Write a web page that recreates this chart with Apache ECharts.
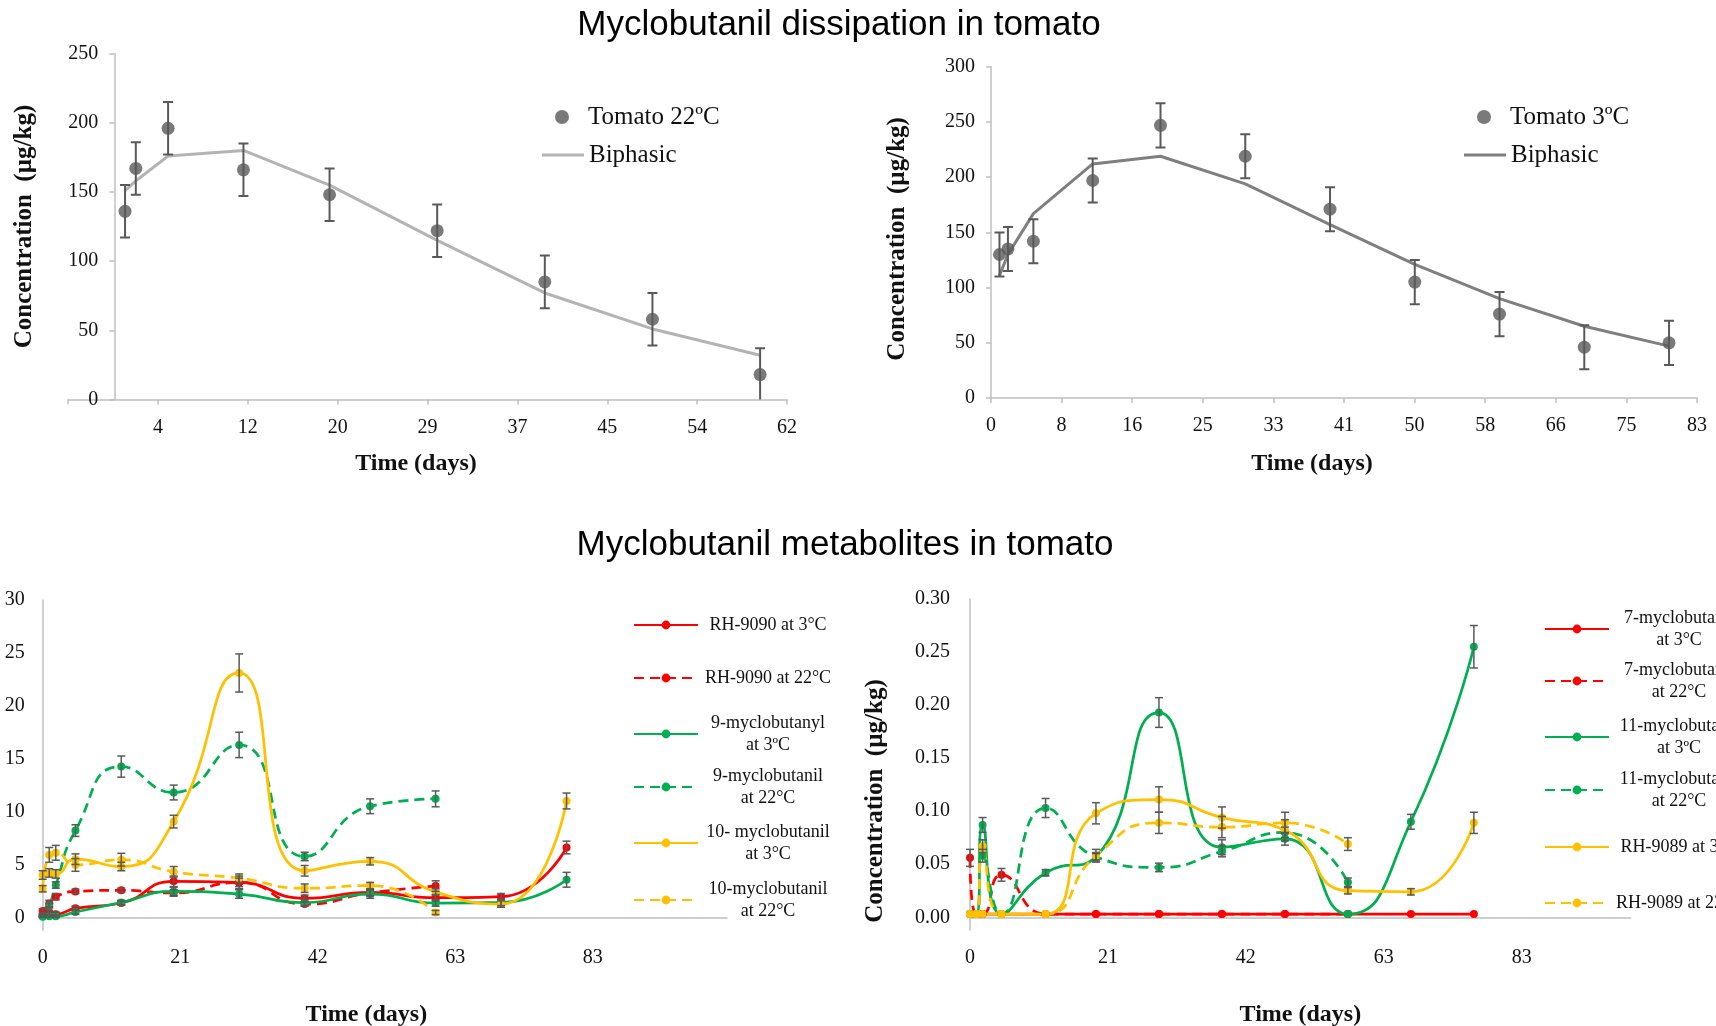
<!DOCTYPE html>
<html><head><meta charset="utf-8">
<script src="https://cdn.jsdelivr.net/npm/echarts@6/dist/echarts.min.js"></script>
<style>html,body{margin:0;padding:0;background:#fff}#c{width:1716px;height:1026px}</style>
</head><body><div id="c"></div>
<script>
// ---------- Top-left: Tomato 22ºC ----------
const daysTL = [1, 2, 5, 12, 20, 30, 40, 50, 60];
const tomato22 = [136, 167, 196, 166, 148, 122, 85, 58, 18];
const tomato22Err = [19, 19, 19, 19, 19, 19, 19, 19, 19];
const biphasic22 = [151, 158, 176, 180, 155, 115, 77, 51, 32];
const ticksTLPos = [-4.3, 4.05, 12.4, 20.75, 29.1, 37.45, 45.8, 54.15, 62.5];
const ticksTLLabel = ['', '4', '12', '20', '29', '37', '45', '54', '62'];

// ---------- Top-right: Tomato 3ºC ----------
const daysTR = [1, 2, 5, 12, 20, 30, 40, 50, 60, 70, 80];
const tomato3 = [130, 135, 142, 197, 247, 219, 171, 105, 76, 46, 50];
const tomato3Err = [20, 20, 20, 20, 20, 20, 20, 20, 20, 20, 20];
const biphasic3 = [111, 130, 167, 212, 219, 194, 157, 121, 90, 65, 47];
const ticksTRPos = [0, 8.33, 16.66, 24.99, 33.32, 41.65, 49.98, 58.31, 66.64, 74.97, 83.3];
const ticksTRLabel = ['0', '8', '16', '25', '33', '41', '50', '58', '66', '75', '83'];

// ---------- Bottom-left: metabolites (µg/kg) ----------
const days3 = [0, 1, 2, 5, 12, 20, 30, 40, 50, 60, 70, 80];
const days22 = [0, 1, 2, 5, 12, 20, 30, 40, 50, 60];
const rh9090_3 = [0.2, 0.45, 0.3, 0.85, 1.35, 3.4, 3.3, 1.8, 2.35, 1.85, 1.95, 6.6];
const rh9090_3Err = [0.1, 0.2, 0.2, 0.2, 0.2, 0.5, 0.4, 0.3, 0.3, 0.3, 0.3, 0.6];
const rh9090_22 = [0.6, 1.3, 1.95, 2.45, 2.55, 2.3, 3.3, 1.25, 2.3, 2.95];
const rh9090_22Err = [0.2, 0.3, 0.3, 0.2, 0.2, 0.3, 0.6, 0.2, 0.3, 0.5];
const m9_3 = [0.05, 0.1, 0.1, 0.5, 1.4, 2.45, 2.2, 1.4, 2.2, 1.35, 1.4, 3.55];
const m9_3Err = [0.05, 0.1, 0.1, 0.2, 0.2, 0.4, 0.4, 0.3, 0.4, 0.3, 0.3, 0.7];
const m9_22 = [0.1, 1.1, 3.05, 8.2, 14.25, 11.8, 16.3, 5.75, 10.5, 11.2];
const m9_22Err = [0.1, 0.2, 0.3, 0.55, 1.0, 0.7, 1.2, 0.4, 0.7, 0.75];
const m10_3 = [4.0, 4.2, 4.1, 5.5, 4.8, 9.05, 23.1, 4.4, 5.3, 2.4, 1.25, 11.0];
const m10_3Err = [0.4, 0.4, 0.4, 0.5, 0.4, 0.6, 1.8, 0.5, 0.35, 0.3, 0.3, 0.75];
const m10_22 = [2.7, 5.9, 6.1, 4.95, 5.45, 4.3, 3.7, 2.75, 3.0, 0.45];
const m10_22Err = [0.3, 0.7, 0.7, 0.6, 0.6, 0.5, 0.4, 0.4, 0.3, 0.2];
const ticksBLPos = [0, 21, 42, 63, 84];
const ticksBLLabel = ['0', '21', '42', '63', '83'];
const yTicksBL = [0, 5, 10, 15, 20, 25, 30];

// ---------- Bottom-right: metabolites (µg/kg) ----------
const m7_3 = [0.003, 0.003, 0.003, 0.003, 0.003, 0.003, 0.003, 0.003, 0.003, 0.003, 0.003, 0.003];
const m7_22 = [0.056, 0.003, 0.003, 0.040, 0.003, 0.003, 0.003, 0.003, 0.003, 0.003];
const m7_22Err = [0.008, 0, 0, 0.006, 0, 0, 0, 0, 0, 0];
const m11_3 = [0.003, 0.003, 0.087, 0.003, 0.042, 0.057, 0.193, 0.066, 0.074, 0.003, 0.090, 0.255];
const m11_3Err = [0, 0, 0.007, 0, 0.003, 0.003, 0.014, 0.007, 0.006, 0, 0.007, 0.02];
const m11_22 = [0.003, 0.003, 0.058, 0.003, 0.103, 0.057, 0.047, 0.062, 0.080, 0.033];
const m11_22Err = [0, 0, 0.006, 0, 0.009, 0.004, 0.004, 0.005, 0.005, 0.004];
const rh9089_3 = [0.003, 0.003, 0.003, 0.003, 0.003, 0.098, 0.111, 0.094, 0.082, 0.025, 0.024, 0.089];
const rh9089_3Err = [0, 0, 0, 0, 0, 0.01, 0.012, 0.01, 0.01, 0.003, 0.003, 0.01];
const rh9089_22 = [0.003, 0.003, 0.067, 0.003, 0.003, 0.058, 0.089, 0.085, 0.089, 0.069];
const rh9089_22Err = [0, 0, 0.006, 0, 0, 0.006, 0.01, 0.01, 0.01, 0.006];
const ticksBRPos = [0, 21.9, 43.8, 65.7, 87.6];
const ticksBRLabel = ['0', '21', '42', '63', '83'];
const yTicksBR = [0, 0.05, 0.10, 0.15, 0.20, 0.25, 0.30];

// ---------- styling ----------
const SERIF = "'Liberation Serif','Times New Roman',serif";
const SANS = "'Liberation Sans',Arial,sans-serif";
const AXC = '#bfbfbf';
const TXT = '#111';
const EBC = '#595959';
const RED = '#ff0000', GREEN = '#00b050', YEL = '#ffc000';

const zip = (xs, ys) => xs.map((x, i) => [x, ys[i]]);
const labelFor = (pos, lab) => v => {
  let bi = 0, bd = Infinity;
  pos.forEach((p, i) => { const d = Math.abs(p - v); if (d < bd) { bd = d; bi = i; } });
  return lab[bi];
};

function errSeries(axis, xs, vals, errs, capW, lw, clip) {
  const data = [];
  xs.forEach((x, i) => { if (errs[i] > 0) data.push([x, vals[i] - errs[i], vals[i] + errs[i]]); });
  return {
    type: 'custom', xAxisIndex: axis, yAxisIndex: axis, silent: true, z: 3, clip: !!clip,
    encode: { x: 0, y: [1, 2] }, data,
    renderItem: (params, api) => {
      const lo = api.coord([api.value(0), api.value(1)]);
      const hi = api.coord([api.value(0), api.value(2)]);
      const h = capW / 2;
      const st = { stroke: EBC, lineWidth: lw };
      return { type: 'group', children: [
        { type: 'line', shape: { x1: lo[0], y1: lo[1], x2: hi[0], y2: hi[1] }, style: st },
        { type: 'line', shape: { x1: lo[0] - h, y1: lo[1], x2: lo[0] + h, y2: lo[1] }, style: st },
        { type: 'line', shape: { x1: hi[0] - h, y1: hi[1], x2: hi[0] + h, y2: hi[1] }, style: st }
      ] };
    }
  };
}

function metLine(axis, name, xs, ys, color, dashed) {
  return {
    type: 'line', name, xAxisIndex: axis, yAxisIndex: axis, data: zip(xs, ys),
    smooth: 0.55, symbol: 'circle', symbolSize: 8, color, z: 2,
    lineStyle: { color, width: 2.75, type: dashed ? [10, 6] : 'solid' },
    itemStyle: { color }
  };
}

const lineAx = { show: true, onZero: true, lineStyle: { color: AXC, width: 1.5 } };
const lineAxNZ = { show: true, onZero: false, lineStyle: { color: AXC, width: 1.5 } };
const tickAx = (pos) => ({ show: true, length: 5, customValues: pos, lineStyle: { color: AXC, width: 1.5 } });

const xAxes = [
  { gridIndex: 0, type: 'value', min: -4.3, max: 62.5, axisLine: lineAx, axisTick: tickAx(ticksTLPos), splitLine: { show: false },
    axisLabel: { customValues: ticksTLPos.slice(1), formatter: labelFor(ticksTLPos, ticksTLLabel), margin: 18, fontFamily: SERIF, fontSize: 20, color: TXT },
    name: 'Time (days)', nameLocation: 'middle', nameGap: 52,
    nameTextStyle: { fontFamily: SERIF, fontSize: 24, fontWeight: 'bold', color: TXT, padding: [0, 23, 0, 0] } },
  { gridIndex: 1, type: 'value', min: 0, max: 83.3, axisLine: lineAx, axisTick: tickAx(ticksTRPos), splitLine: { show: false },
    axisLabel: { customValues: ticksTRPos, formatter: labelFor(ticksTRPos, ticksTRLabel), margin: 18, fontFamily: SERIF, fontSize: 20, color: TXT },
    name: 'Time (days)', nameLocation: 'middle', nameGap: 54,
    nameTextStyle: { fontFamily: SERIF, fontSize: 24, fontWeight: 'bold', color: TXT, padding: [0, 64, 0, 0] } },
  { gridIndex: 2, type: 'value', min: 0, max: 104.5, axisLine: lineAx, axisTick: { show: false }, splitLine: { show: false },
    axisLabel: { customValues: ticksBLPos, formatter: labelFor(ticksBLPos, ticksBLLabel), margin: 17.5, fontFamily: SERIF, fontSize: 20, color: TXT },
    name: 'Time (days)', nameLocation: 'middle', nameGap: 73,
    nameTextStyle: { fontFamily: SERIF, fontSize: 24, fontWeight: 'bold', color: TXT, padding: [0, 37, 0, 0] } },
  { gridIndex: 3, type: 'value', min: 0, max: 104.9, axisLine: lineAx, axisTick: { show: false }, splitLine: { show: false },
    axisLabel: { customValues: ticksBRPos, formatter: labelFor(ticksBRPos, ticksBRLabel), margin: 17.5, fontFamily: SERIF, fontSize: 20, color: TXT },
    name: 'Time (days)', nameLocation: 'middle', nameGap: 73,
    nameTextStyle: { fontFamily: SERIF, fontSize: 24, fontWeight: 'bold', color: TXT } }
];

const yName = 'Concentration  (µg/kg)';
const yAxes = [
  // placed on the day-0 line of the x axis (x axis starts below zero)
  { gridIndex: 0, type: 'value', min: 0, max: 250, interval: 50, axisLine: lineAxNZ, offset: -46.3,
    axisTick: { show: true, length: 5, lineStyle: { color: AXC, width: 1.5 } }, splitLine: { show: false },
    axisLabel: { margin: 16, fontFamily: SERIF, fontSize: 20, color: TXT },
    name: yName, nameLocation: 'middle', nameGap: 77,
    nameTextStyle: { fontFamily: SERIF, fontSize: 25, fontWeight: 'bold', color: TXT } },
  { gridIndex: 1, type: 'value', min: 0, max: 300, interval: 50, axisLine: lineAx,
    axisTick: { show: true, length: 5, lineStyle: { color: AXC, width: 1.5 } }, splitLine: { show: false },
    axisLabel: { margin: 16, fontFamily: SERIF, fontSize: 20, color: TXT },
    name: yName, nameLocation: 'middle', nameGap: 81,
    nameTextStyle: { fontFamily: SERIF, fontSize: 25, fontWeight: 'bold', color: TXT, padding: [0, 13, 0, 0] } },
  { gridIndex: 2, type: 'value', min: -1.2, max: 30, axisLine: lineAx, axisTick: { show: false }, splitLine: { show: false },
    axisLabel: { customValues: yTicksBL, margin: 18, fontFamily: SERIF, fontSize: 20, color: TXT } },
  { gridIndex: 3, type: 'value', min: -0.012, max: 0.3, axisLine: lineAx, axisTick: { show: false }, splitLine: { show: false },
    axisLabel: { customValues: yTicksBR, formatter: v => v.toFixed(2), margin: 20, fontFamily: SERIF, fontSize: 20, color: TXT },
    name: yName, nameLocation: 'middle', nameGap: 82,
    nameTextStyle: { fontFamily: SERIF, fontSize: 25, fontWeight: 'bold', color: TXT, padding: [0, 73, 0, 0] } }
];

const series = [
  { type: 'line', name: 'Biphasic 22', xAxisIndex: 0, yAxisIndex: 0, data: zip(daysTL, biphasic22), symbol: 'none',
    color: '#b3b3b3', lineStyle: { color: '#b3b3b3', width: 3 }, z: 2 },
  errSeries(0, daysTL, tomato22, tomato22Err, 10, 2, true),
  { type: 'scatter', name: 'Tomato 22ºC', xAxisIndex: 0, yAxisIndex: 0, data: zip(daysTL, tomato22), symbolSize: 13,
    color: '#595959', itemStyle: { color: '#595959' }, z: 4 },

  { type: 'line', name: 'Biphasic 3', xAxisIndex: 1, yAxisIndex: 1, data: zip(daysTR, biphasic3), symbol: 'none',
    color: '#7f7f7f', lineStyle: { color: '#7f7f7f', width: 3 }, z: 2 },
  errSeries(1, daysTR, tomato3, tomato3Err, 10, 2, true),
  { type: 'scatter', name: 'Tomato 3ºC', xAxisIndex: 1, yAxisIndex: 1, data: zip(daysTR, tomato3), symbolSize: 13,
    color: '#595959', itemStyle: { color: '#595959' }, z: 4 },

  metLine(2, 'RH-9090 at 3°C', days3, rh9090_3, RED, false),
  metLine(2, 'RH-9090 at 22°C', days22, rh9090_22, RED, true),
  metLine(2, '9-myclobutanyl\nat 3ºC', days3, m9_3, GREEN, false),
  metLine(2, '9-myclobutanil\nat 22°C', days22, m9_22, GREEN, true),
  metLine(2, '10- myclobutanil\nat 3°C', days3, m10_3, YEL, false),
  metLine(2, '10-myclobutanil\nat 22°C', days22, m10_22, YEL, true),
  errSeries(2, days3, rh9090_3, rh9090_3Err, 8, 1.5),
  errSeries(2, days22, rh9090_22, rh9090_22Err, 8, 1.5),
  errSeries(2, days3, m9_3, m9_3Err, 8, 1.5),
  errSeries(2, days22, m9_22, m9_22Err, 8, 1.5),
  errSeries(2, days3, m10_3, m10_3Err, 8, 1.5),
  errSeries(2, days22, m10_22, m10_22Err, 8, 1.5),

  metLine(3, '7-myclobutanil\nat 3°C', days3, m7_3, RED, false),
  metLine(3, '7-myclobutanil\nat 22°C', days22, m7_22, RED, true),
  metLine(3, '11-myclobutanil\nat 3ºC', days3, m11_3, GREEN, false),
  metLine(3, '11-myclobutanil\nat 22°C', days22, m11_22, GREEN, true),
  metLine(3, 'RH-9089 at 3°C', days3, rh9089_3, YEL, false),
  metLine(3, 'RH-9089 at 22°C', days22, rh9089_22, YEL, true),
  errSeries(3, days22, m7_22, m7_22Err, 8, 1.5),
  errSeries(3, days3, m11_3, m11_3Err, 8, 1.5),
  errSeries(3, days22, m11_22, m11_22Err, 8, 1.5),
  errSeries(3, days3, rh9089_3, rh9089_3Err, 8, 1.5),
  errSeries(3, days22, rh9089_22, rh9089_22Err, 8, 1.5)
];

// legends
const topLegTS = { fontFamily: SERIF, fontSize: 25, color: TXT, lineHeight: 28 };
const legends = [
  { left: 555, top: 103, padding: 0, itemWidth: 42, itemHeight: 14, selectedMode: false, data: ['Tomato 22ºC'], textStyle: topLegTS },
  { left: 542, top: 141, padding: 0, itemWidth: 42, itemHeight: 3, selectedMode: false, data: [{ name: 'Biphasic 22', icon: 'rect' }],
    formatter: () => 'Biphasic', textStyle: topLegTS },
  { left: 1477, top: 103, padding: 0, itemWidth: 42, itemHeight: 14, selectedMode: false, data: ['Tomato 3ºC'], textStyle: topLegTS },
  { left: 1464, top: 141, padding: 0, itemWidth: 42, itemHeight: 3, selectedMode: false, data: [{ name: 'Biphasic 3', icon: 'rect' }],
    formatter: () => 'Biphasic', textStyle: topLegTS }
];
const botLegTS = { fontFamily: SERIF, fontSize: 18, color: TXT, lineHeight: 22,
  rich: { c: { width: 130, align: 'center', fontFamily: SERIF, fontSize: 18, lineHeight: 22, color: TXT } } };
const blNames = ['RH-9090 at 3°C', 'RH-9090 at 22°C', '9-myclobutanyl\nat 3ºC', '9-myclobutanil\nat 22°C', '10- myclobutanil\nat 3°C', '10-myclobutanil\nat 22°C'];
const blCY = [625, 678, 734, 787, 843, 900];
const brNames = ['7-myclobutanil\nat 3°C', '7-myclobutanil\nat 22°C', '11-myclobutanil\nat 3ºC', '11-myclobutanil\nat 22°C', 'RH-9089 at 3°C', 'RH-9089 at 22°C'];
const brCY = [629, 681, 737, 790, 847, 903];
function addBottomLegends(names, cys, left) {
  names.forEach((n, i) => {
    const lines = n.split('\n').length;
    legends.push({ left, top: cys[i] - lines * 11, padding: 0, itemWidth: 64, itemHeight: 11, itemGap: 0,
      selectedMode: false, data: [n], formatter: s => '{c|' + s + '}', textStyle: botLegTS });
  });
}
addBottomLegends(blNames, blCY, 633);
addBottomLegends(brNames, brCY, 1544);

const option = {
  animation: false,
  backgroundColor: '#fff',
  title: [
    { text: 'Myclobutanil dissipation in tomato', left: 839, top: 25, textAlign: 'center', textVerticalAlign: 'middle', padding: 0,
      textStyle: { fontFamily: SANS, fontSize: 35, fontWeight: 'normal', color: '#000' } },
    { text: 'Myclobutanil metabolites in tomato', left: 845, top: 545, textAlign: 'center', textVerticalAlign: 'middle', padding: 0,
      textStyle: { fontFamily: SANS, fontSize: 35, fontWeight: 'normal', color: '#000' } }
  ],
  grid: [
    { left: 68, top: 53.6, width: 719, height: 345.9, outerBoundsMode: 'none', containLabel: false },
    { left: 991, top: 66.8, width: 706, height: 331.2, outerBoundsMode: 'none', containLabel: false },
    { left: 42.7, top: 600, width: 684.3, height: 330, outerBoundsMode: 'none', containLabel: false },
    { left: 970, top: 599, width: 660.7, height: 331, outerBoundsMode: 'none', containLabel: false }
  ],
  xAxis: xAxes,
  yAxis: yAxes,
  legend: legends,
  series
};

const chart = echarts.init(document.getElementById('c'), null, { renderer: 'canvas' });
chart.setOption(option);
</script>
</body></html>
